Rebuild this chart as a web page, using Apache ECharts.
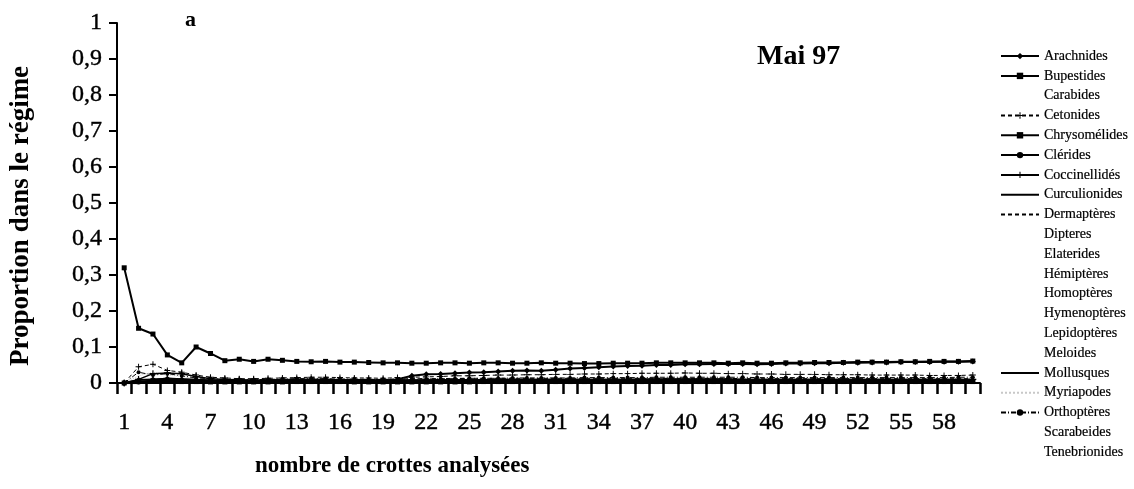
<!DOCTYPE html>
<html>
<head>
<meta charset="utf-8">
<script src="https://cdn.jsdelivr.net/npm/echarts@6/dist/echarts.min.js"></script>
<style>
html,body{margin:0;padding:0;background:#fff;}
#chart{width:1134px;height:489px;}
</style>
</head>
<body>
<div id="chart"></div>
<script>
// ---- data ----
var categories = ['1','2','3','4','5','6','7','8','9','10','11','12','13','14','15','16','17','18','19','20',
  '21','22','23','24','25','26','27','28','29','30','31','32','33','34','35','36','37','38','39','40',
  '41','42','43','44','45','46','47','48','49','50','51','52','53','54','55','56','57','58','59','60'];

var yTicks = [0, 0.1, 0.2, 0.3, 0.4, 0.5, 0.6, 0.7, 0.8, 0.9, 1];

var arachnides = [0.000,0.008,0.010,0.012,0.010,0.008,0.007,0.006,0.006,0.005,
  0.006,0.008,0.009,0.008,0.008,0.008,0.007,0.006,0.006,0.010,
  0.020,0.024,0.025,0.027,0.029,0.030,0.032,0.034,0.035,0.034,
  0.037,0.040,0.042,0.044,0.046,0.047,0.048,0.050,0.050,0.052,
  0.052,0.053,0.053,0.053,0.052,0.053,0.054,0.054,0.055,0.055,
  0.056,0.056,0.057,0.057,0.058,0.058,0.058,0.059,0.059,0.060];
var bupestides = [0.000,0.004,0.006,0.005,0.004,0.004,0.003,0.003,0.003,0.003,
  0.003,0.003,0.004,0.004,0.004,0.004,0.003,0.003,0.003,0.003,
  0.003,0.003,0.003,0.003,0.003,0.004,0.004,0.004,0.004,0.004,
  0.004,0.004,0.004,0.004,0.004,0.004,0.004,0.004,0.004,0.004,
  0.004,0.004,0.004,0.004,0.004,0.004,0.004,0.004,0.004,0.004,
  0.004,0.004,0.004,0.004,0.004,0.004,0.004,0.004,0.004,0.004];
var carabides = [];
var cetonides = [0.000,0.045,0.052,0.035,0.030,0.022,0.016,0.014,0.012,0.012,
  0.013,0.014,0.015,0.016,0.016,0.015,0.014,0.014,0.013,0.015,
  0.016,0.017,0.018,0.020,0.020,0.021,0.022,0.022,0.023,0.023,
  0.024,0.024,0.025,0.025,0.026,0.026,0.027,0.027,0.027,0.028,
  0.027,0.027,0.026,0.026,0.025,0.025,0.024,0.024,0.024,0.023,
  0.023,0.023,0.022,0.022,0.022,0.022,0.021,0.021,0.021,0.022];
var chrysomelides = [0.320,0.152,0.136,0.078,0.056,0.100,0.082,0.062,0.066,0.060,
  0.066,0.063,0.060,0.059,0.060,0.058,0.058,0.057,0.056,0.056,
  0.055,0.055,0.056,0.056,0.055,0.056,0.056,0.055,0.055,0.056,
  0.055,0.055,0.054,0.054,0.055,0.055,0.055,0.056,0.056,0.056,
  0.056,0.056,0.055,0.056,0.055,0.055,0.056,0.056,0.057,0.057,
  0.057,0.058,0.058,0.058,0.059,0.059,0.060,0.060,0.060,0.061];
var clerides = [0.000,0.003,0.005,0.006,0.006,0.005,0.005,0.004,0.004,0.004,
  0.005,0.005,0.006,0.006,0.006,0.005,0.005,0.005,0.005,0.005,
  0.005,0.005,0.005,0.005,0.005,0.006,0.006,0.006,0.006,0.006,
  0.006,0.006,0.006,0.006,0.006,0.006,0.006,0.006,0.006,0.006,
  0.006,0.006,0.006,0.006,0.006,0.006,0.006,0.006,0.006,0.006,
  0.006,0.006,0.006,0.006,0.006,0.006,0.006,0.006,0.006,0.006];
var coccinellides = [0.000,0.010,0.026,0.028,0.026,0.018,0.012,0.010,0.009,0.008,
  0.008,0.009,0.010,0.010,0.010,0.009,0.009,0.008,0.008,0.008,
  0.008,0.008,0.009,0.009,0.009,0.009,0.010,0.010,0.010,0.010,
  0.010,0.010,0.010,0.010,0.010,0.010,0.011,0.011,0.011,0.011,
  0.011,0.011,0.011,0.010,0.010,0.010,0.010,0.010,0.010,0.010,
  0.010,0.010,0.010,0.010,0.010,0.010,0.010,0.010,0.010,0.010];
var curculionides = [0.000,0.000,0.008,0.012,0.010,0.008,0.006,0.005,0.005,0.005,
  0.006,0.007,0.008,0.008,0.008,0.007,0.007,0.006,0.006,0.006,
  0.006,0.006,0.007,0.007,0.007,0.007,0.008,0.008,0.008,0.008,
  0.008,0.008,0.008,0.008,0.008,0.008,0.008,0.008,0.009,0.009,
  0.009,0.009,0.009,0.008,0.008,0.008,0.008,0.008,0.008,0.008,
  0.008,0.008,0.008,0.008,0.008,0.008,0.008,0.008,0.008,0.008];
var dermapteres = [0.000,0.000,0.004,0.006,0.008,0.008,0.007,0.006,0.006,0.006,
  0.007,0.008,0.009,0.009,0.010,0.010,0.010,0.010,0.010,0.011,
  0.012,0.012,0.012,0.013,0.013,0.013,0.013,0.013,0.013,0.013,
  0.013,0.013,0.013,0.013,0.013,0.013,0.013,0.013,0.013,0.013,
  0.013,0.013,0.013,0.012,0.012,0.012,0.012,0.012,0.012,0.012,
  0.012,0.012,0.012,0.012,0.012,0.012,0.012,0.012,0.012,0.012];
var dipteres = [];
var elaterides = [];
var hemipteres = [];
var homopteres = [];
var hymenopteres = [];
var lepidopteres = [];
var meloides = [];
var mollusques = [0.000,0.000,0.002,0.003,0.003,0.003,0.002,0.002,0.002,0.002,
  0.002,0.002,0.002,0.002,0.002,0.002,0.002,0.002,0.002,0.002,
  0.002,0.002,0.002,0.002,0.003,0.003,0.003,0.003,0.003,0.003,
  0.003,0.003,0.003,0.003,0.003,0.003,0.003,0.003,0.003,0.003,
  0.003,0.003,0.003,0.003,0.003,0.003,0.003,0.003,0.003,0.003,
  0.003,0.003,0.003,0.003,0.003,0.003,0.003,0.003,0.003,0.003];
var myriapodes = [0.000,0.020,0.030,0.022,0.018,0.012,0.010,0.008,0.008,0.008,
  0.008,0.008,0.008,0.008,0.008,0.008,0.008,0.008,0.008,0.008,
  0.008,0.008,0.008,0.008,0.008,0.008,0.008,0.008,0.008,0.008,
  0.008,0.008,0.008,0.008,0.008,0.008,0.008,0.008,0.008,0.008,
  0.008,0.008,0.008,0.008,0.008,0.008,0.008,0.008,0.008,0.008,
  0.008,0.008,0.008,0.008,0.008,0.008,0.008,0.008,0.008,0.008];
var orthopteres = [0.000,0.030,0.022,0.026,0.020,0.014,0.012,0.010,0.010,0.009,
  0.010,0.011,0.012,0.012,0.012,0.011,0.011,0.010,0.010,0.010,
  0.011,0.011,0.012,0.012,0.013,0.013,0.013,0.014,0.014,0.014,
  0.014,0.014,0.015,0.015,0.015,0.015,0.015,0.016,0.016,0.016,
  0.016,0.016,0.016,0.016,0.015,0.015,0.015,0.015,0.015,0.015,
  0.015,0.015,0.015,0.015,0.015,0.015,0.015,0.015,0.016,0.016];
var scarabeides = [];
var tenebrionides = [];

var PLUS = 'path://M0,4.2H10V5.8H0Z M4.2,0H5.8V10H4.2Z';

// name, data, lineWidth, lineType, symbol, symbolSize, color
var seriesDefs = [
  ['Arachnides', arachnides, 2, 'solid', 'diamond', 6, '#000'],
  ['Bupestides', bupestides, 1.2, 'solid', 'rect', 5, '#000'],
  ['Carabides', carabides, 1, 'solid', 'none', 0, 'rgba(0,0,0,0)'],
  ['Cetonides', cetonides, 1, [4, 3], PLUS, 6, '#000'],
  ['Chrysomélides', chrysomelides, 2, 'solid', 'rect', 5, '#000'],
  ['Clérides', clerides, 2, 'solid', 'circle', 5, '#000'],
  ['Coccinellidés', coccinellides, 1.5, 'solid', PLUS, 7, '#000'],
  ['Curculionides', curculionides, 2.5, 'solid', 'none', 0, '#000'],
  ['Dermaptères', dermapteres, 1, [4, 3], 'none', 0, '#000'],
  ['Dipteres', dipteres, 1, 'solid', 'none', 0, 'rgba(0,0,0,0)'],
  ['Elaterides', elaterides, 1, 'solid', 'none', 0, 'rgba(0,0,0,0)'],
  ['Hémiptères', hemipteres, 1, 'solid', 'none', 0, 'rgba(0,0,0,0)'],
  ['Homoptères', homopteres, 1, 'solid', 'none', 0, 'rgba(0,0,0,0)'],
  ['Hymenoptères', hymenopteres, 1, 'solid', 'none', 0, 'rgba(0,0,0,0)'],
  ['Lepidoptères', lepidopteres, 1, 'solid', 'none', 0, 'rgba(0,0,0,0)'],
  ['Meloides', meloides, 1, 'solid', 'none', 0, 'rgba(0,0,0,0)'],
  ['Mollusques', mollusques, 1.2, 'solid', 'none', 0, '#000'],
  ['Myriapodes', myriapodes, 1, 'dotted', 'none', 0, '#c8c8c8'],
  ['Orthoptères', orthopteres, 1, [5, 2, 1, 2], 'circle', 4, '#000'],
  ['Scarabeides', scarabeides, 1, 'solid', 'none', 0, 'rgba(0,0,0,0)'],
  ['Tenebrionides', tenebrionides, 1, 'solid', 'none', 0, 'rgba(0,0,0,0)']
];

var SERIF = '"Liberation Serif", "Times New Roman", serif';

var series = seriesDefs.map(function (d) {
  return {
    name: d[0],
    type: 'line',
    data: d[1],
    symbol: d[4],
    symbolSize: d[5],
    showSymbol: d[4] !== 'none',
    showAllSymbol: true,
    animation: false,
    z: d[6] === '#000' ? 3 : 2,
    lineStyle: { width: d[2], type: d[3], color: d[6] },
    itemStyle: { color: d[6], borderWidth: 0 }
  };
});

var legendData = seriesDefs.map(function (d) {
  if (d[4] === 'none') {
    return { name: d[0], itemStyle: { opacity: 0 } };
  }
  return { name: d[0] };
});

var chart = echarts.init(document.getElementById('chart'), null, { renderer: 'canvas' });
chart.setOption({
  backgroundColor: '#fff',
  animation: false,
  textStyle: { fontFamily: SERIF },
  title: [
    { text: 'Mai 97', left: 752, top: 38, textStyle: { fontFamily: SERIF, fontSize: 28, fontWeight: 'bold', color: '#000' } },
    { text: 'a', left: 180, top: 4, textStyle: { fontFamily: SERIF, fontSize: 22, fontWeight: 'bold', color: '#000' } },
    { text: 'nombre de crottes analysées', left: 250, top: 450, textStyle: { fontFamily: SERIF, fontSize: 23, fontWeight: 'bold', color: '#000' } }
  ],
  legend: {
    orient: 'vertical',
    left: 995,
    top: 44,
    itemWidth: 38,
    itemHeight: 8,
    itemGap: 5.6,
    textStyle: { fontFamily: SERIF, fontSize: 14, lineHeight: 14, color: '#000', textBorderColor: '#000', textBorderWidth: 0.2 },
    data: legendData
  },
  grid: { left: 117, right: 154, top: 23, bottom: 106, containLabel: false, outerBoundsMode: 'none' },
  xAxis: {
    type: 'category',
    data: categories,
    boundaryGap: true,
    axisLine: { lineStyle: { color: '#000', width: 2 } },
    axisTick: { show: true, interval: 0, length: 11, inside: false, lineStyle: { color: '#000', width: 2.5 } },
    axisLabel: { interval: 2, margin: 28, fontFamily: SERIF, fontSize: 24, color: '#000', textBorderColor: '#000', textBorderWidth: 0.4 },
    splitLine: { show: false }
  },
  yAxis: {
    type: 'value',
    min: yTicks[0],
    max: yTicks[yTicks.length - 1],
    interval: 0.1,
    name: 'Proportion dans le régime',
    nameLocation: 'middle',
    nameGap: 82,
    nameTextStyle: { fontFamily: SERIF, fontSize: 27, fontWeight: 'bold', color: '#000', padding: [0, 26, 0, 0] },
    axisLine: { show: true, lineStyle: { color: '#000', width: 2 } },
    axisTick: { show: true, length: 8, inside: false, lineStyle: { color: '#000', width: 2 } },
    axisLabel: {
      margin: 15, fontFamily: SERIF, fontSize: 24, color: '#000', textBorderColor: '#000', textBorderWidth: 0.4,
      formatter: function (v) { return String(Number(v.toFixed(1))).replace('.', ','); }
    },
    splitLine: { show: false }
  },
  series: series
});
</script>
</body>
</html>
